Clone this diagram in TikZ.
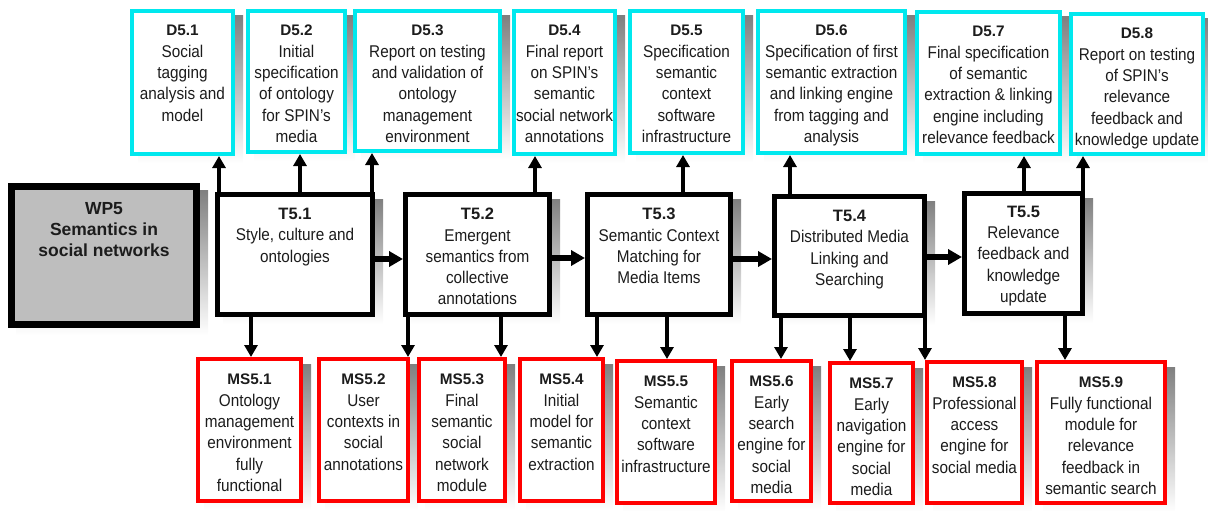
\documentclass[tikz,border=0pt]{standalone}
\usepackage{fontspec}
\setmainfont{Liberation Sans}
\newfontfamily\bodyfont{Liberation Sans}[FakeStretch=0.9]
\usetikzlibrary{arrows.meta}

\definecolor{delcyan}{RGB}{0,232,238}
\definecolor{msred}{RGB}{255,0,0}
\definecolor{shade}{RGB}{196,196,196}
\definecolor{wpgray}{RGB}{190,190,190}
\definecolor{ink}{RGB}{28,28,28}

\tikzset{
  anybox/.style={fill=white, inner sep=0pt, outer sep=0pt},
  delbox/.style={anybox, draw=delcyan},
  taskbox/.style={anybox, draw=black},
  msbox/.style={anybox, draw=msred},
  wpbox/.style={anybox, draw=black, fill=wpgray},
  anytxt/.style={align=center, inner sep=0pt, outer sep=0pt, text=ink,
                 font=\bodyfont\fontsize{17}{21.3}\selectfont},
  deltxt/.style={anytxt},
  tasktxt/.style={anytxt},
  mstxt/.style={anytxt},
  wptxt/.style={anytxt, font=\fontsize{17.5}{21}\selectfont\bfseries},
  uparr/.style={line width=4pt, shorten >=2pt, -{Triangle[length=12pt,width=13pt]}},
  downarr/.style={line width=4pt, shorten >=2pt, -{Triangle[length=12pt,width=13pt]}},
  flowarr/.style={line width=5.5pt, shorten >=2.5pt, -{Triangle[length=14pt,width=15pt]}},
}

% a framed box with a flat grey shadow, given by its outer edges,
% and its text hanging from the top
% #1 name, #2 kind, #3 line width, #4-#7 x1 y1 x2 y2, #8 drop of text, #9 text
\newcommand\wbox[9]{%
  \fill[shade] ({#4+8},{#5+7}) rectangle ({#6+8},{#7+7});
  \node[#2box, line width=#3pt, anchor=north west,
        minimum width={#6-#4-#3}, minimum height={#7-#5-#3}]
        (#1) at ({#4+#3/2},{#5+#3/2}) {};
  \node[#2txt, anchor=north] (#1txt) at ([yshift=-#8pt]#1.north) {#9};}

\newcommand\dtitle[1]{{\rmfamily\fontsize{15.3}{21.3}\selectfont\bfseries #1}}
\newcommand\tasktitle[1]{{\rmfamily\fontsize{16.5}{21.3}\selectfont\bfseries #1}}

\begin{document}
\begin{tikzpicture}[x=1pt,y=-1pt]
\useasboundingbox (0,0) rectangle (1208,511);

% deliverables
\wbox{D51}{del}{4}{130}{9}{235}{156}{14.3}{\dtitle{D5.1}\\Social\\tagging\\analysis and\\model}
\wbox{D52}{del}{4}{246}{9}{347}{154}{14.3}{\dtitle{D5.2}\\Initial\\specification\\of ontology\\for SPIN’s\\media}
\wbox{D53}{del}{4}{353}{9}{502}{153}{14.3}{\dtitle{D5.3}\\Report on testing\\and validation of\\ontology\\management\\environment}
\wbox{D54}{del}{4}{512}{9}{617}{156}{14.3}{\dtitle{D5.4}\\Final report\\on SPIN’s\\semantic\\social network\\annotations}
\wbox{D55}{del}{4}{628}{9}{745}{155}{14.3}{\dtitle{D5.5}\\Specification\\semantic\\context\\software\\infrastructure}
\wbox{D56}{del}{4}{756}{9}{907}{155}{14.3}{\dtitle{D5.6}\\Specification of first\\semantic extraction\\and linking engine\\from tagging and\\analysis}
\wbox{D57}{del}{4}{915}{10}{1062}{156}{14.3}{\dtitle{D5.7}\\Final specification\\of semantic\\extraction \& linking\\engine including\\relevance feedback}
\wbox{D58}{del}{4}{1069}{12}{1205}{156}{14.3}{\dtitle{D5.8}\\Report on testing\\of SPIN’s\\relevance\\feedback and\\knowledge update}

% work package and tasks
\wbox{WP5}{wp}{7}{8}{183}{200}{328}{16}{WP5\\Semantics in\\social networks}
\wbox{T51}{task}{5}{215}{192}{375}{317}{13.7}{\tasktitle{T5.1}\\Style, culture and\\ontologies}
\wbox{T52}{task}{5}{403}{192}{552}{317}{13.7}{\tasktitle{T5.2}\\Emergent\\semantics from\\collective\\annotations}
\wbox{T53}{task}{5}{585}{192}{733}{317}{13.7}{\tasktitle{T5.3}\\Semantic Context\\Matching for\\Media Items}
\wbox{T54}{task}{5}{772}{194}{927}{318}{13.7}{\tasktitle{T5.4}\\Distributed Media\\Linking and\\Searching}
\wbox{T55}{task}{5}{962}{191}{1085}{316}{12.5}{\tasktitle{T5.5}\\Relevance\\feedback and\\knowledge\\update}

% milestones
\wbox{MS51}{ms}{4}{196}{357}{303}{503}{15.3}{\dtitle{MS5.1}\\Ontology\\management\\environment\\fully\\functional}
\wbox{MS52}{ms}{4}{317}{357}{410}{503}{15.3}{\dtitle{MS5.2}\\User\\contexts in\\social\\annotations}
\wbox{MS53}{ms}{4}{417}{357}{507}{503}{15.3}{\dtitle{MS5.3}\\Final\\semantic\\social\\network\\module}
\wbox{MS54}{ms}{4}{518}{357}{605}{503}{15.3}{\dtitle{MS5.4}\\Initial\\model for\\semantic\\extraction}
\wbox{MS55}{ms}{4}{615}{359}{717}{505}{15.3}{\dtitle{MS5.5}\\Semantic\\context\\software\\infrastructure}
\wbox{MS56}{ms}{4}{730}{359}{813}{503}{15.3}{\dtitle{MS5.6}\\Early\\search\\engine for\\social\\media}
\wbox{MS57}{ms}{4}{828}{361}{915}{505}{15.3}{\dtitle{MS5.7}\\Early\\navigation\\engine for\\social\\media}
\wbox{MS58}{ms}{4}{925}{360}{1024}{505}{15.3}{\dtitle{MS5.8}\\Professional\\access\\engine for\\social media}
\wbox{MS59}{ms}{4}{1035}{360}{1167}{505}{15.3}{\dtitle{MS5.9}\\Fully functional\\module for\\relevance\\feedback in\\semantic search}

% columns and rows of the connectors
\coordinate (u1) at (219,0);  \coordinate (u2) at (300,0);
\coordinate (u3) at (372,0);  \coordinate (u4) at (535,0);
\coordinate (u5) at (683,0);  \coordinate (u6) at (790,0);
\coordinate (u7) at (1024,0); \coordinate (u8) at (1083,0);
\coordinate (d1) at (251,0);  \coordinate (d2) at (408,0);
\coordinate (d3) at (501,0);  \coordinate (d4) at (597,0);
\coordinate (d5) at (667,0);  \coordinate (d6) at (781,0);
\coordinate (d7) at (850,0);  \coordinate (d8) at (925,0);
\coordinate (d9) at (1065,0);
\coordinate (h1) at (0,259);  \coordinate (h2) at (0,258);
\coordinate (h3) at (0,259);  \coordinate (h4) at (0,257);

% tasks to deliverables
\draw[uparr] (T51.north -| u1) -- (D51.south -| u1);
\draw[uparr] (T51.north -| u2) -- (D52.south -| u2);
\draw[uparr] (T51.north -| u3) -- (D53.south -| u3);
\draw[uparr] (T52.north -| u4) -- (D54.south -| u4);
\draw[uparr] (T53.north -| u5) -- (D55.south -| u5);
\draw[uparr] (T54.north -| u6) -- (D56.south -| u6);
\draw[uparr] (T55.north -| u7) -- (D57.south -| u7);
\draw[uparr] (T55.north -| u8) -- (D58.south -| u8);

% tasks to milestones
\draw[downarr] (T51.south -| d1) -- (MS51.north -| d1);
\draw[downarr] (T52.south -| d2) -- (MS52.north -| d2);
\draw[downarr] (T52.south -| d3) -- (MS53.north -| d3);
\draw[downarr] (T53.south -| d4) -- (MS54.north -| d4);
\draw[downarr] (T53.south -| d5) -- (MS55.north -| d5);
\draw[downarr] (T54.south -| d6) -- (MS56.north -| d6);
\draw[downarr] (T54.south -| d7) -- (MS57.north -| d7);
\draw[downarr] (T54.south -| d8) -- (MS58.north -| d8);
\draw[downarr] (T55.south -| d9) -- (MS59.north -| d9);

% task sequence
\draw[flowarr] (T51.east |- h1) -- (T52.west |- h1);
\draw[flowarr] (T52.east |- h2) -- (T53.west |- h2);
\draw[flowarr] (T53.east |- h3) -- (T54.west |- h3);
\draw[flowarr] (T54.east |- h4) -- (T55.west |- h4);
\end{tikzpicture}
\end{document}
